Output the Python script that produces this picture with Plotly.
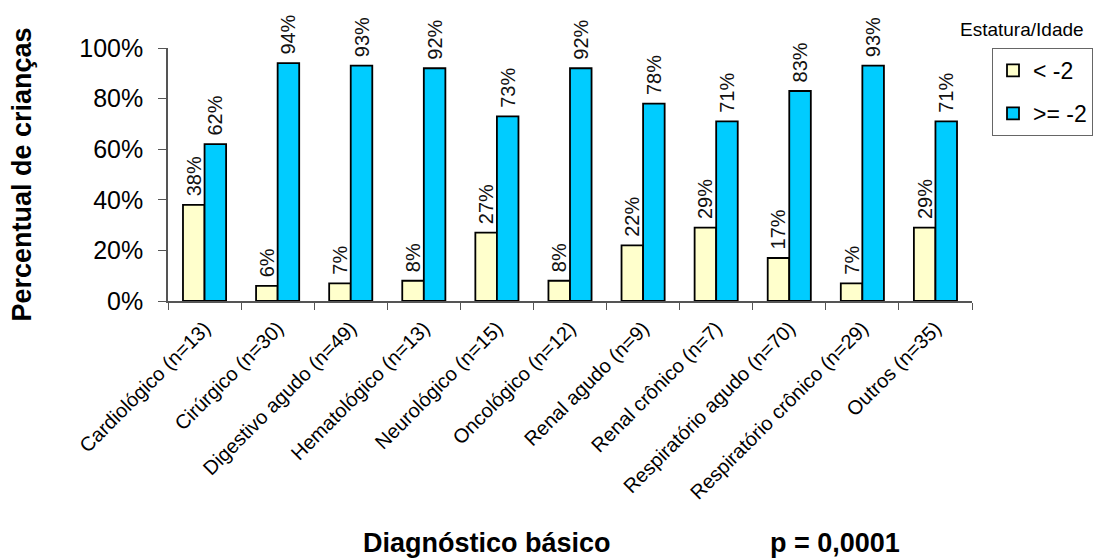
import plotly.graph_objects as go

# Diagnostic groups and percentage of children per height-for-age class
categories = [
    "Cardiológico (n=13)", "Cirúrgico (n=30)", "Digestivo agudo (n=49)",
    "Hematológico (n=13)", "Neurológico (n=15)", "Oncológico (n=12)",
    "Renal agudo (n=9)", "Renal crônico (n=7)", "Respiratório agudo (n=70)",
    "Respiratório crônico (n=29)", "Outros (n=35)",
]
below_minus2 = [38, 6, 7, 8, 27, 8, 22, 29, 17, 7, 29]
at_least_minus2 = [62, 94, 93, 92, 73, 92, 78, 71, 83, 93, 71]
series_names = ["< -2", ">= -2"]
y_ticks = [0, 20, 40, 60, 80, 100]

FONT = "Liberation Sans, Arial, sans-serif"

# plot-area geometry in pixels
W, H = 1093, 559
L, R, T, B = 168, 972, 48, 301


def px_x(x):
    return (x - L) / (R - L)


def px_y(y):
    return (B - y) / (B - T)


fig = go.Figure()
for name, vals, color, grp in [
    (series_names[0], below_minus2, "#FFFFCC", "a"),
    (series_names[1], at_least_minus2, "#00CCFF", "b"),
]:
    fig.add_trace(go.Bar(
        x=categories, y=vals, name=name, legendgroup=grp,
        marker=dict(color=color, line=dict(color="#000000", width=1.8)),
        text=[f"\u00a0{v}%" for v in vals], textposition="outside",
        textangle=-90, cliponaxis=False, constraintext="none",
        textfont=dict(family=FONT, size=20, color="#111111"),
    ))

fig.update_layout(
    width=W, height=H,
    margin=dict(l=L, r=W - R, t=T, b=H - B, autoexpand=False),
    paper_bgcolor="white", plot_bgcolor="white",
    barmode="group", bargap=0.41, bargroupgap=0,
    font=dict(family=FONT, color="#000000"),
    legend=dict(
        x=px_x(992), y=1.0, xanchor="left", yanchor="top",
        bordercolor="#666666", borderwidth=1, bgcolor="white",
        font=dict(family=FONT, size=23), traceorder="grouped",
        tracegroupgap=10,
    ),
    xaxis=dict(
        showline=True, linecolor="#555555", linewidth=1.5,
        ticks="outside", tickson="boundaries", ticklen=7,
        tickcolor="#555555", tickangle=-45, ticklabelstandoff=6,
        tickfont=dict(family=FONT, size=20, color="#000000"),
        showgrid=False, automargin=False,
    ),
    yaxis=dict(
        range=[0, 100], tickvals=y_ticks,
        ticktext=[f"{t}%" for t in y_ticks],
        showline=True, linecolor="#555555", linewidth=1.5,
        ticks="outside", ticklen=8, tickcolor="#555555",
        ticklabelstandoff=10, automargin=False,
        tickfont=dict(family=FONT, size=25, color="#000000"),
        showgrid=False, zeroline=False,
        title=dict(text="<b>Percentual de crianças</b>",
                   font=dict(family=FONT, size=27), standoff=40),
    ),
    annotations=[
        dict(text="Estatura/Idade", x=px_x(1022), y=px_y(30),
             xref="paper", yref="paper", xanchor="center", yanchor="middle",
             showarrow=False, font=dict(family=FONT, size=19)),
        dict(text="<b>Diagnóstico básico</b>", x=px_x(487), y=px_y(543),
             xref="paper", yref="paper", xanchor="center", yanchor="middle",
             showarrow=False, font=dict(family=FONT, size=27)),
        dict(text="<b>p = 0,0001</b>", x=px_x(835), y=px_y(543),
             xref="paper", yref="paper", xanchor="center", yanchor="middle",
             showarrow=False, font=dict(family=FONT, size=27)),
    ],
)

fig.write_html("out.html")
